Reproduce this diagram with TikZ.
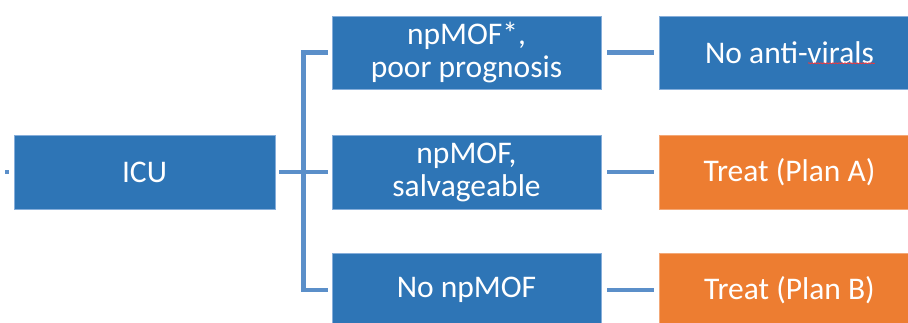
\documentclass[tikz,border=0pt]{standalone}
\usepackage{fontspec}
\setmainfont{Carlito}
\usetikzlibrary{decorations.pathmorphing}
\definecolor{boxblue}{HTML}{2E75B6}
\definecolor{boxorange}{HTML}{ED7D31}
\definecolor{linkblue}{HTML}{5B8FC9}
\definecolor{rimblue}{HTML}{86AEDA}
\definecolor{rimorange}{HTML}{F3A877}

\begin{document}
\begin{tikzpicture}[x=1pt,y=-1pt]
    \tikzstyle{every node}=[rectangle,minimum height=73.5pt,inner sep=0pt,text=white,align=center,font=\fontsize{31.5}{33}\selectfont]
    \tikzstyle{stage}=[fill=boxblue,draw=rimblue,line width=0.8pt]
    \tikzstyle{treat}=[fill=boxorange,draw=rimorange,line width=0.8pt]
    \tikzstyle{link}=[draw=linkblue,line width=4.5pt]
    \useasboundingbox (0,0) rectangle (908,323);
    \clip (0,0) rectangle (908,323);
    \node[stage,minimum width=261pt] (icu) at (144.5,172.25) {ICU};
    \node[stage,minimum width=269pt] (poor) at (466.5,52.75) {npMOF*,\\poor prognosis};
    \node[stage,minimum width=269pt] (salv) at (466.5,172.25) {npMOF,\\salvageable};
    \node[stage,minimum width=269pt] (nompof) at (466.5,290) {No npMOF};
    \node[stage,minimum width=261pt] (noav) at (789.5,52.75) {No anti-virals};
    \node[treat,minimum width=261pt] (planA) at (789.5,172.25) {Treat (Plan A)};
    \node[treat,minimum width=261pt] (planB) at (789.5,290) {Treat (Plan B)};
    \coordinate (stub) at (5,172.25);
    \coordinate (fork) at (303.5,172.25);
    \draw[link,shorten >=5pt] (stub) -- (icu.west);
    \draw[link,shorten <=4pt,shorten >=4pt] (icu.east) -- (salv.west);
    \draw[link,shorten <=4pt,shorten >=4pt] (poor.west) -| (fork |- nompof.west) -- (nompof.west);
    \draw[link,shorten <=6pt,shorten >=5pt] (poor.east) -- (noav.west);
    \draw[link,shorten <=6pt,shorten >=5pt] (salv.east) -- (planA.west);
    \draw[link,shorten <=6pt,shorten >=5pt] (nompof.east) -- (planB.west);
    \draw[red!80!white,line width=0.7pt,decorate,decoration={snake,amplitude=0.5pt,segment length=3pt}] (noav.center) ++(18.5,10.5) -- ++(67,0);
\end{tikzpicture}
\end{document}
